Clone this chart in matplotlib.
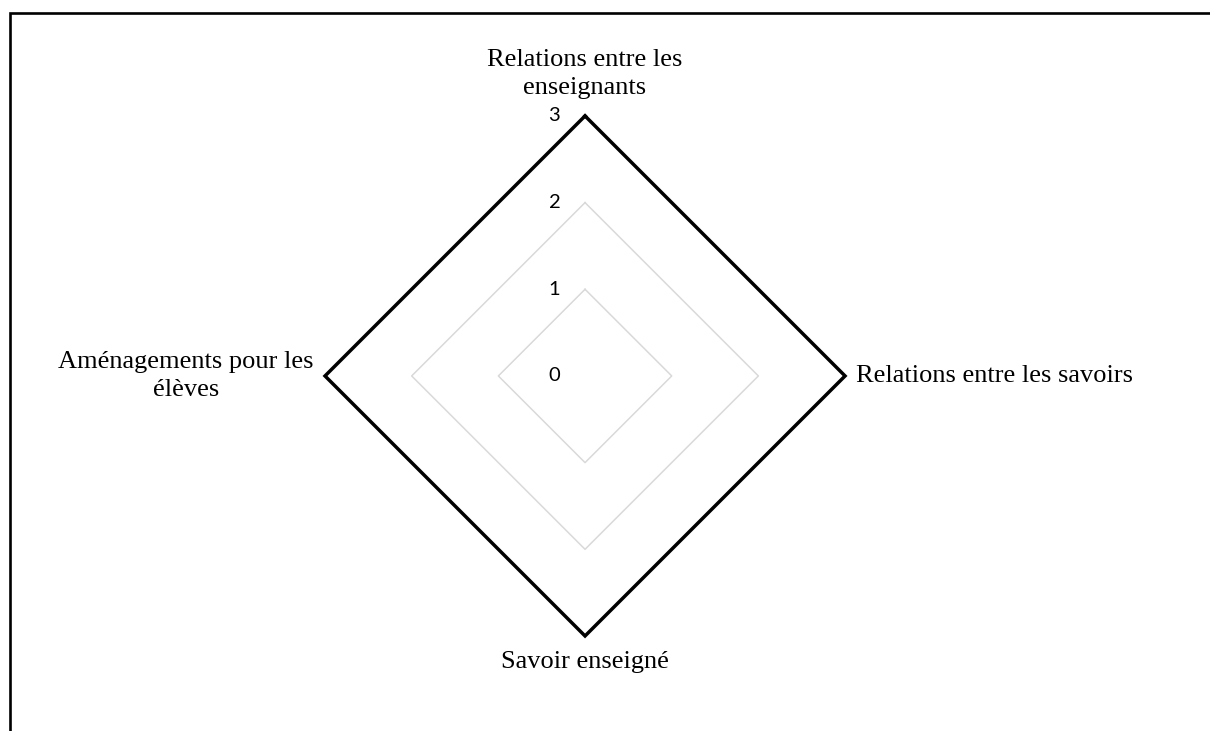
import numpy as np
import matplotlib
matplotlib.use('Agg')
import matplotlib.pyplot as plt
from matplotlib.patches import Rectangle

# radar data (clockwise from top)
categories = ["Relations entre les\nenseignants", "Relations entre les savoirs",
              "Savoir enseigné", "Aménagements pour les\nélèves"]
values = [3, 3, 3, 3]
grid_levels = [1, 2]
tick_levels = [0, 1, 2, 3]

fig = plt.figure(figsize=(12.1, 7.31), dpi=100, facecolor='white')

# frame around the figure (only top and left edges visible)
fig.patches.append(Rectangle((9.5 / 1210, -0.5), 2.0, 0.5 + (731 - 12.5) / 731,
                             transform=fig.transFigure, fill=False,
                             edgecolor='black', linewidth=1.9))

ax = fig.add_axes([0.2686, 0.13, 0.4298, 0.7114], projection='polar')
ax.set_theta_offset(np.pi / 2)
ax.set_theta_direction(-1)
ax.set_ylim(0, 3)
ax.grid(False)
ax.set_xticks([])
ax.set_yticks([])
ax.spines['polar'].set_visible(False)
ax.patch.set_visible(False)

angles = np.linspace(0, 2 * np.pi, len(categories), endpoint=False)
closed = np.append(angles, angles[0])

for lvl in grid_levels:
    ax.plot(closed, [lvl] * len(closed), color='#d9d9d9', lw=1.1, zorder=1)

ax.plot(closed, values + values[:1], color='black', lw=2.5, zorder=3,
        solid_joinstyle='miter', clip_on=False)

# radial tick labels
for lvl in tick_levels:
    ax.annotate(str(lvl), xy=(0, lvl), xytext=(-22, 0), textcoords='offset points',
                ha='center', va='center', fontsize=14.5, family='Lato',
                annotation_clip=False)

# category labels
offsets = [((0, 12), 'center', 'bottom'),
           ((8, 0), 'left', 'center'),
           ((0, -11), 'center', 'top'),
           ((-8, 0), 'right', 'center')]
for ang, lab, (off, ha, va) in zip(angles, categories, offsets):
    ax.annotate(lab, xy=(ang, 3), xytext=off, textcoords='offset points',
                ha=ha, va=va, multialignment='center', fontsize=19,
                family='Liberation Serif', linespacing=1.38,
                annotation_clip=False)

fig.savefig('out.png', dpi=100, facecolor='white')
